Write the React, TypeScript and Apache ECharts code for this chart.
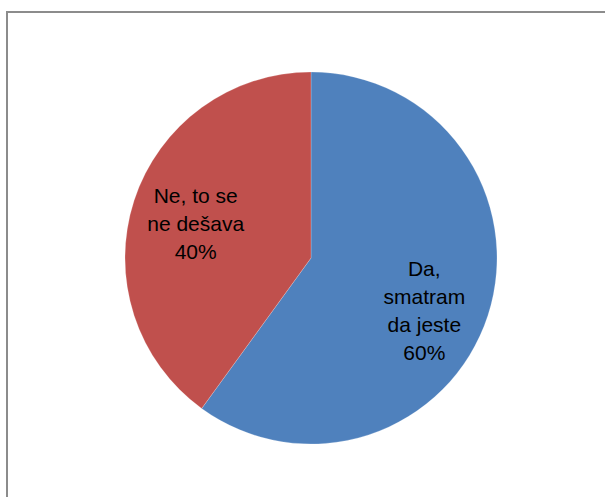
import React, { useEffect, useRef } from "react";
import * as echarts from "echarts";

const categories = ["Da,\nsmatram\nda jeste", "Ne, to se\nne dešava"];
const values = [60, 40];
const colors = ["#4F81BD", "#C0504D"];

export default function App() {
  const ref = useRef<HTMLDivElement>(null);
  useEffect(() => {
    if (!ref.current) return;
    const chart = echarts.init(ref.current, undefined, { renderer: "svg" });
    const paddings = [
      [0, 0, 0, 44],
      [0, 48, 0, 0],
    ];
    chart.setOption({
      animation: false,
      backgroundColor: "#ffffff",
      graphic: [
        {
          type: "rect",
          shape: { x: 7, y: 12, width: 700, height: 600 },
          style: { fill: "none", stroke: "#8c8c8c", lineWidth: 2 },
          silent: true,
        },
      ],
      series: [
        {
          type: "pie",
          center: [311, 258],
          radius: [0, 186],
          startAngle: 90,
          clockwise: true,
          itemStyle: { borderColor: "rgba(255,255,255,0.35)", borderWidth: 0.6 },
          label: {
            show: true,
            position: "inside",
            formatter: (p: any) => {
              const lines = String(p.name).split("\n");
              lines.push(Math.round(p.percent) + "%");
              const body = lines.map((l) => "{t|" + l + "}").join("\n");
              if (p.dataIndex === 0) return "{g1| }\n" + body;
              return body + "\n{g2| }";
            },
            color: "#000000",
            fontFamily: "Liberation Sans",
            fontSize: 21,
            lineHeight: 28,
            align: "center",
            rich: {
              t: {
                color: "#000000",
                fontFamily: "Liberation Sans",
                fontSize: 21,
                lineHeight: 28,
                align: "center",
              },
              g1: { fontSize: 4, lineHeight: 46 },
              g2: { fontSize: 4, lineHeight: 10 },
            },
          },
          labelLine: { show: false },
          emphasis: { disabled: true },
          data: categories.map((c, i) => ({
            name: c,
            value: values[i],
            itemStyle: { color: colors[i] },
            label: { padding: paddings[i] },
          })),
        },
      ],
    });
    return () => chart.dispose();
  }, []);
  return (
    <div
      ref={ref}
      style={{ position: "fixed", left: 0, top: 0, width: 605, height: 497 }}
    />
  );
}
